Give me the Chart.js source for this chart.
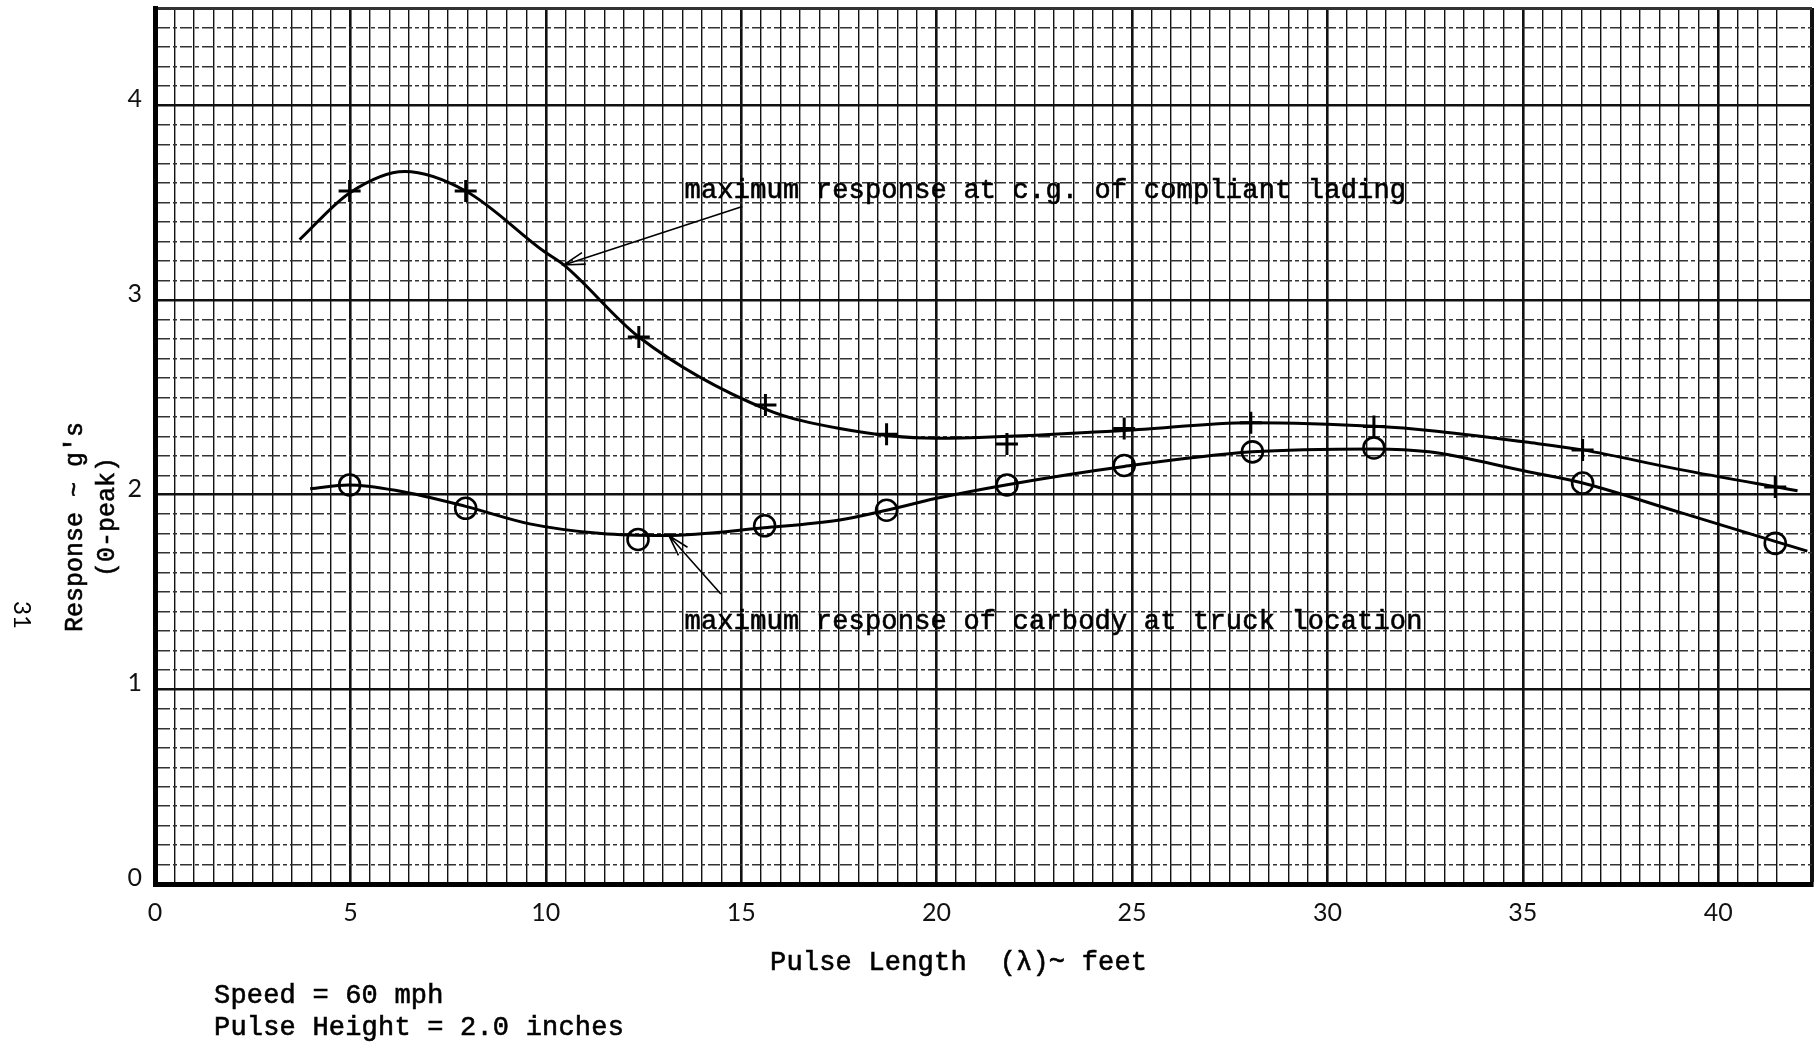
<!DOCTYPE html>
<html>
<head>
<meta charset="utf-8">
<script src="https://cdn.jsdelivr.net/npm/chart.js@4.4.1/dist/chart.umd.min.js"></script>
<style>
	html, body { margin: 0; padding: 0; background: #fff; }
	canvas { display: block; }
</style>
</head>
<body>
<canvas id="response-chart" width="1816" height="1047"></canvas>
<script>
// measured runs: pulse length (feet) and peak response (g's)
const ladingRunX = [4.98, 7.95, 12.38, 15.62, 18.72, 21.8, 24.8, 28.04, 31.19, 36.53, 41.46];
const ladingRunY = [3.56, 3.56, 2.81, 2.46, 2.31, 2.26, 2.34, 2.37, 2.35, 2.23, 2.04];
const carbodyRunX = [4.98, 7.95, 12.36, 15.6, 18.72, 21.8, 24.8, 28.08, 31.19, 36.53, 41.46];
const carbodyRunY = [2.05, 1.93, 1.77, 1.84, 1.92, 2.05, 2.15, 2.22, 2.24, 2.06, 1.75];

// faired curves drawn through the runs
const ladingFairX = [3.7, 4.98, 6.39, 7.95, 9.95, 10.46, 12.38, 15.62, 17.52, 19.97, 24.8, 28.04, 31.33, 32.6, 35.08, 36.53, 39.0, 42.03];
const ladingFairY = [3.31, 3.55, 3.66, 3.56, 3.25, 3.18, 2.81, 2.44, 2.34, 2.29, 2.33, 2.37, 2.35, 2.33, 2.27, 2.23, 2.13, 2.02];
const carbodyFairX = [3.97, 4.96, 6.21, 7.95, 9.59, 11.42, 13.06, 15.59, 17.52, 18.72, 19.97, 21.77, 24.8, 28.08, 31.19, 32.6, 35.08, 36.53, 39.0, 42.28];
const carbodyFairY = [2.03, 2.05, 2.02, 1.94, 1.85, 1.80, 1.79, 1.83, 1.87, 1.92, 1.98, 2.05, 2.145, 2.22, 2.235, 2.22, 2.12, 2.06, 1.91, 1.71];

// axis ranges and labelled ticks
const xRange = [0, 42.4];
const yRange = [0, 4.5];
const xTickLabels = [0, 5, 10, 15, 20, 25, 30, 35, 40];
const yTickLabels = [0, 1, 2, 3, 4];

// callouts, in data units: text start + arrow from/to
const ladingCallout = { text: 'maximum response at c.g. of compliant lading', x: 13.55, y: 3.526, from: [15.03, 3.48], to: [10.46, 3.18] };
const carbodyCallout = { text: 'maximum response of carbody at truck location', x: 13.55, y: 1.308, from: [14.48, 1.49], to: [13.15, 1.79] };

const typeFont = '"Liberation Mono", "DejaVu Sans Mono", monospace';
const numFont = 'Lato, "Open Sans", sans-serif';

const toPoints = (xs, ys) => xs.map((x, i) => ({ x: x, y: ys[i] }));
const near = (v, step) => Math.abs(v / step - Math.round(v / step)) < 1e-6;

function arrow(ctx, x1, y1, x2, y2) {
	const a = Math.atan2(y2 - y1, x2 - x1);
	const len = 22;
	const spread = 0.28;
	ctx.beginPath();
	ctx.moveTo(x1, y1);
	ctx.lineTo(x2, y2);
	ctx.moveTo(x2 - len * Math.cos(a - spread), y2 - len * Math.sin(a - spread));
	ctx.lineTo(x2, y2);
	ctx.lineTo(x2 - len * Math.cos(a + spread), y2 - len * Math.sin(a + spread));
	ctx.stroke();
}

// typed text is a little heavier than the plain face
function typed(ctx, text, x, y) {
	ctx.fillText(text, x, y);
	ctx.lineWidth = 0.6;
	ctx.strokeText(text, x, y);
}

const labelsPlugin = {
	id: 'paperLabels',
	afterDraw(chart) {
		const ctx = chart.ctx;
		const xs = chart.scales.x;
		const ys = chart.scales.y;
		ctx.save();
		ctx.fillStyle = '#000';
		ctx.strokeStyle = '#000';
		ctx.textBaseline = 'alphabetic';
		ctx.textAlign = 'left';
		ctx.font = '27px ' + typeFont;
		ctx.letterSpacing = '0.2px';

		// callouts
		[ladingCallout, carbodyCallout].forEach((c) => {
			typed(ctx, c.text, xs.getPixelForValue(c.x), ys.getPixelForValue(c.y));
			ctx.lineWidth = 1.6;
			arrow(ctx,
				xs.getPixelForValue(c.from[0]), ys.getPixelForValue(c.from[1]),
				xs.getPixelForValue(c.to[0]), ys.getPixelForValue(c.to[1]));
		});

		// x title and run conditions
		typed(ctx, 'Pulse Length  (\u03bb)~ feet', 770, 970);
		typed(ctx, 'Speed = 60 mph', 214, 1003);
		typed(ctx, 'Pulse Height = 2.0 inches', 214, 1035);

		// y title, reads upward
		ctx.save();
		ctx.translate(82, 527);
		ctx.rotate(-Math.PI / 2);
		ctx.textAlign = 'center';
		ctx.font = '25px ' + typeFont;
		ctx.letterSpacing = '0px';
		typed(ctx, "Response ~ g's", 0, 0);
		typed(ctx, '(0-peak)', 10, 32);
		ctx.restore();

		// page number
		ctx.save();
		ctx.translate(14, 615);
		ctx.rotate(Math.PI / 2);
		ctx.textAlign = 'center';
		ctx.letterSpacing = '0px';
		ctx.font = '24px ' + numFont;
		ctx.fillText('31', 0, 0);
		ctx.restore();

		ctx.restore();
	},
};

new Chart(document.getElementById('response-chart'), {
	type: 'scatter',
	data: {
		datasets: [
			{
				data: toPoints(ladingFairX, ladingFairY),
				showLine: true,
				cubicInterpolationMode: 'monotone',
				borderColor: '#000',
				borderWidth: 3,
				pointRadius: 0,
			},
			{
				data: toPoints(carbodyFairX, carbodyFairY),
				showLine: true,
				cubicInterpolationMode: 'monotone',
				borderColor: '#000',
				borderWidth: 3,
				pointRadius: 0,
			},
			{
				data: toPoints(ladingRunX, ladingRunY),
				pointStyle: 'cross',
				pointRadius: 11,
				borderColor: '#000',
				borderWidth: 3,
			},
			{
				data: toPoints(carbodyRunX, carbodyRunY),
				pointStyle: 'circle',
				pointRadius: 10.5,
				borderColor: '#000',
				backgroundColor: 'rgba(0,0,0,0)',
				borderWidth: 2.6,
			},
		],
	},
	options: {
		responsive: false,
		animation: false,
		events: [],
		layout: {
			autoPadding: false,
			padding: { top: 8, right: 4, left: 0, bottom: 0 },
		},
		plugins: {
			legend: { display: false },
			tooltip: { enabled: false },
		},
		scales: {
			x: {
				type: 'linear',
				min: xRange[0],
				max: xRange[1],
				afterFit: (scale) => {
					scale.height = 163;
					scale.paddingLeft = 0;
					scale.paddingRight = 0;
				},
				border: { display: true, color: '#000', width: 5 },
				grid: {
					drawTicks: false,
					color: '#111',
					lineWidth: (c) => {
						const v = c.tick.value;
						if (v >= xRange[1] - 1e-6) return 4;
						return near(v, 5) ? 2.6 : 1.4;
					},
				},
				ticks: {
					stepSize: 0.5,
					autoSkip: false,
					maxRotation: 0,
					padding: 14,
					color: '#111',
					font: { family: numFont, size: 25 },
					callback: (v) => (xTickLabels.some((t) => Math.abs(t - v) < 1e-6) ? String(v) : ''),
				},
			},
			y: {
				type: 'linear',
				min: yRange[0],
				max: yRange[1],
				afterFit: (scale) => {
					scale.width = 155;
					scale.paddingTop = 0;
					scale.paddingBottom = 0;
				},
				border: {
					display: true,
					color: '#000',
					width: 5,
					dash: (c) => (near(c.tick.value, 1) || c.tick.value >= yRange[1] - 1e-6 ? [] : [12, 3, 4, 3]),
				},
				grid: {
					drawTicks: false,
					color: (c) => (near(c.tick.value, 1) ? '#111' : '#333'),
					lineWidth: (c) => {
						const v = c.tick.value;
						if (v >= yRange[1] - 1e-6) return 3;
						return near(v, 1) ? 2.6 : 1.4;
					},
				},
				ticks: {
					stepSize: 0.1,
					autoSkip: false,
					padding: 13,
					labelOffset: -6,
					color: '#111',
					font: { family: numFont, size: 25 },
					callback: (v) => (yTickLabels.some((t) => Math.abs(t - v) < 1e-6) ? String(v) : ''),
				},
			},
		},
	},
	plugins: [labelsPlugin],
});
</script>
</body>
</html>
